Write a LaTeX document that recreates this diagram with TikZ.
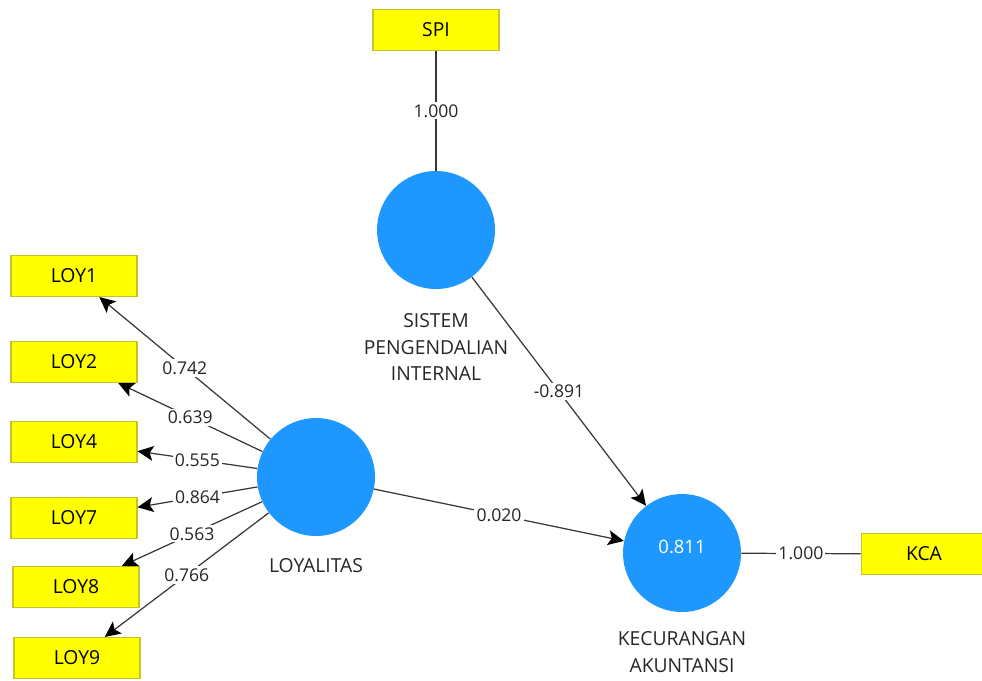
\documentclass[tikz,border=0pt]{standalone}
\usepackage{fontspec}
\setmainfont{Open Sans}
\usetikzlibrary{arrows.meta}
\definecolor{lvblue}{RGB}{30,152,255}
\definecolor{mvyellow}{RGB}{255,255,0}
\definecolor{mvborder}{RGB}{196,196,40}
\definecolor{pathgray}{RGB}{55,55,55}
\begin{document}
\begin{tikzpicture}[x=0.02cm,y=-0.02cm,
    indicator/.style={rectangle,draw=mvborder,fill=mvyellow,line width=0.6pt,
      minimum width=2.52cm,minimum height=0.82cm,font=\fontsize{11}{13}\selectfont},
    construct/.style={circle,fill=lvblue,minimum size=2.36cm,inner sep=0pt},
    caption/.style={align=center,text=black!85,font=\fontsize{11}{15}\selectfont},
    weight/.style={fill=white,inner sep=1.2pt,text=black!85,font=\fontsize{10}{12}\selectfont},
    loading/.style={draw=pathgray,line width=0.7pt,
      -{Stealth[length=9pt,width=8.5pt,inset=2pt,color=black]}},
    plain/.style={draw=pathgray,line width=0.7pt}]
  \useasboundingbox (0,0) rectangle (982,680);
  % indicators
  \draw
    (74,276) node[indicator] (loy1) {LOY1}
    (74,362) node[indicator] (loy2) {LOY2}
    (74,442) node[indicator] (loy4) {LOY4}
    (74,518) node[indicator] (loy7) {LOY7}
    (76,587) node[indicator] (loy8) {LOY8}
    (77,658) node[indicator] (loy9) {LOY9}
    (436,30) node[indicator] (spi) {SPI}
    (924,554) node[indicator] (kca) {KCA};
  % latent variables
  \draw
    (436,230) node[construct] (sis) {}
    (316,477) node[construct] (loy) {}
    (682,553) node[construct] (kec) {};
  \node[text=white,font=\fontsize{10.5}{12}\selectfont] (r2) at (682,547) {0.811};
  \node[caption] (sislabel) at (436,347) {SISTEM\\PENGENDALIAN\\INTERNAL};
  \node[caption] (loylabel) at (316,566) {LOYALITAS};
  \node[caption] (keclabel) at (682,652) {KECURANGAN\\AKUNTANSI};
  \begin{scope}[loading]
    \draw (loy) to node[weight] {0.742} (loy1);
    \draw (loy) to node[weight] {0.639} (loy2);
    \draw (loy) to node[weight] {0.555} (loy4);
    \draw (loy) to node[weight] {0.864} (loy7);
    \draw (loy) to node[weight] {0.563} (loy8);
    \draw (loy) to node[weight] {0.766} (loy9);
    \draw (sis) to node[weight] {-0.891} (kec);
    \draw (loy) to node[weight] {0.020} (kec);
  \end{scope}
  \begin{scope}[plain]
    \draw (spi) to node[weight] {1.000} (sis);
    \draw (kec) to node[weight] {1.000} (kca);
  \end{scope}
\end{tikzpicture}
\end{document}
